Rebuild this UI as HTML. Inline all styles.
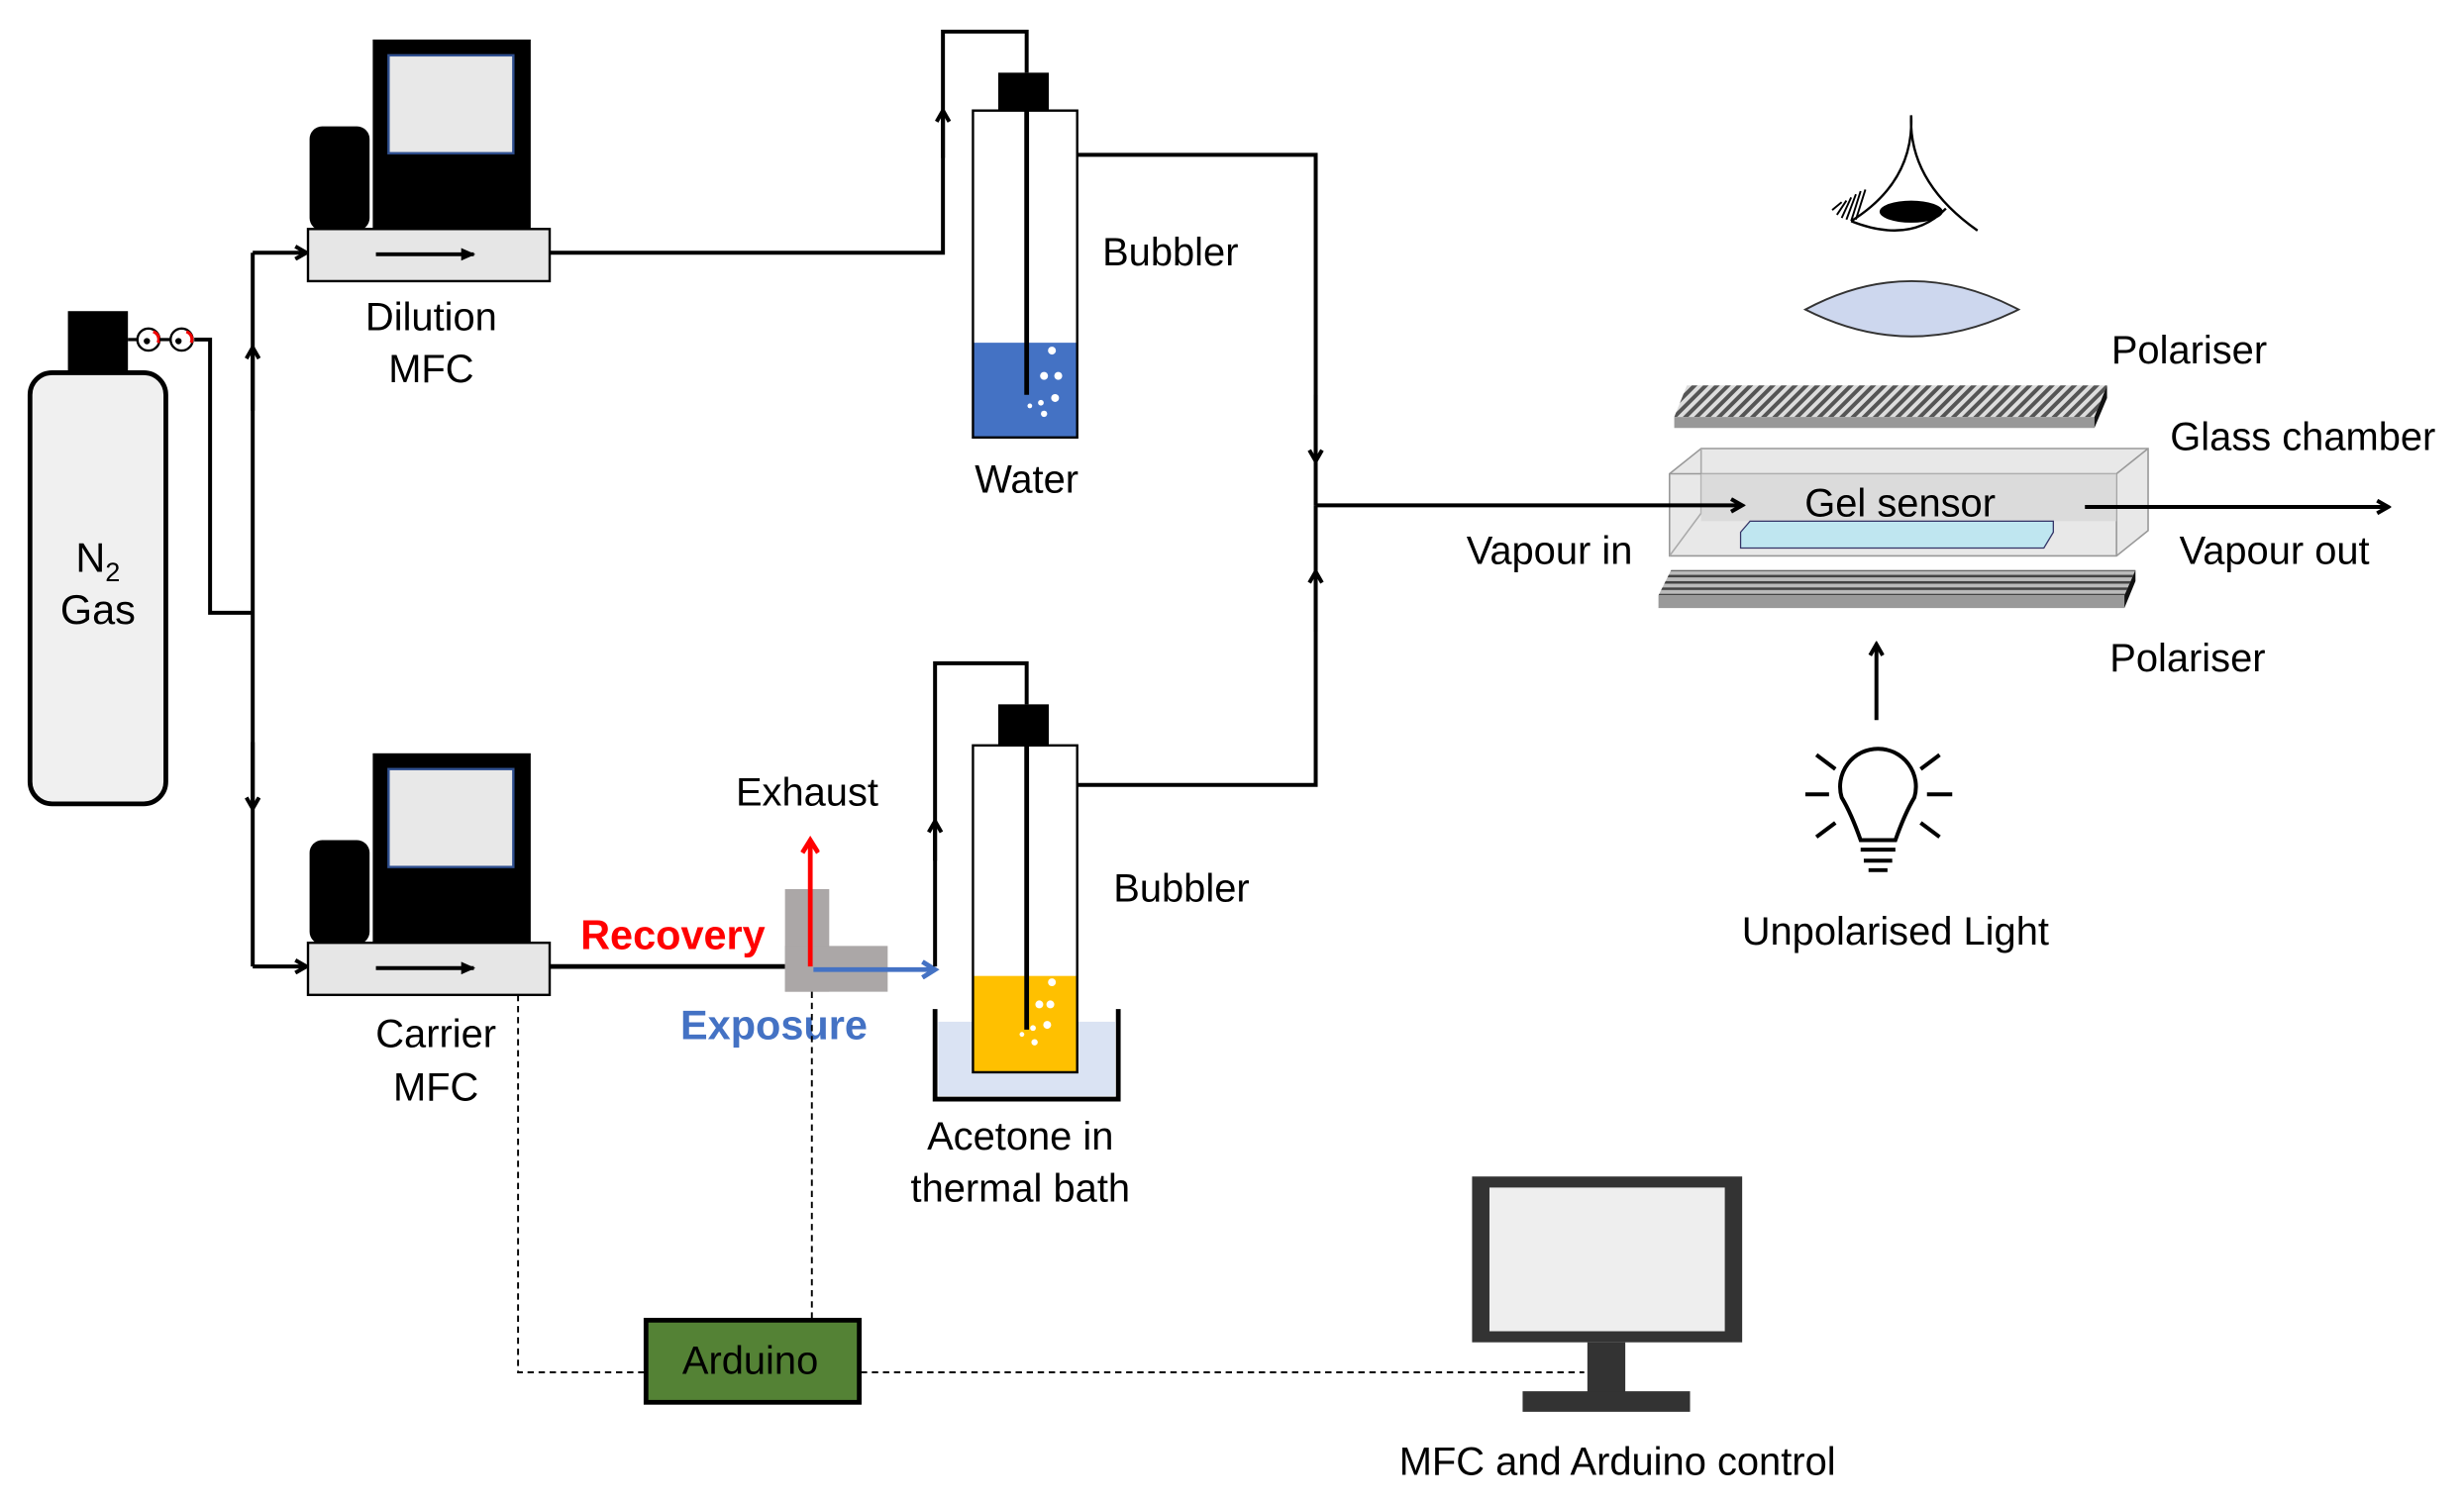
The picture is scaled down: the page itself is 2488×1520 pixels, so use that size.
<!DOCTYPE html>
<html><head><meta charset="utf-8"><style>
html,body{margin:0;padding:0;background:#fff;}
svg{display:block;}
text{font-family:"Liberation Sans",sans-serif;}
</style></head><body>
<svg width="2488" height="1520" viewBox="0 0 1560 953" xmlns="http://www.w3.org/2000/svg">
<defs>
<marker id="ah" markerWidth="10" markerHeight="10" refX="8" refY="5" orient="auto" markerUnits="userSpaceOnUse"><path d="M1,1 L8,5 L1,9" fill="none" stroke="#000" stroke-width="2.5"/></marker>
<marker id="ahr" markerWidth="12" markerHeight="12" refX="9" refY="6" orient="auto" markerUnits="userSpaceOnUse"><path d="M1,1 L9,6 L1,11" fill="none" stroke="#f00" stroke-width="3"/></marker>
<marker id="ahb" markerWidth="12" markerHeight="12" refX="9" refY="6" orient="auto" markerUnits="userSpaceOnUse"><path d="M1,1 L9,6 L1,11" fill="none" stroke="#4472c4" stroke-width="3"/></marker>
<marker id="tri" markerWidth="10" markerHeight="10" refX="8" refY="5" orient="auto" markerUnits="userSpaceOnUse"><path d="M0,1 L9,5 L0,9Z" fill="#000"/></marker>
<pattern id="hatch" width="5" height="5" patternUnits="userSpaceOnUse" patternTransform="rotate(45)"><rect width="5" height="5" fill="#ddd"/><rect width="2.5" height="5" fill="#555"/></pattern>
<pattern id="hlines" width="4" height="4" patternUnits="userSpaceOnUse"><rect width="4" height="4" fill="#bbb"/><rect width="4" height="1.6" fill="#444"/></pattern>
</defs>

<rect x="19" y="236" width="86" height="273" rx="14" fill="#f0f0f0" stroke="#000" stroke-width="3"/>
<rect x="43" y="197" width="38" height="39" fill="#000"/>
<line x1="81" y1="215" x2="87" y2="215" stroke="#000" stroke-width="2"/>
<circle cx="94" cy="215" r="7" fill="#fff" stroke="#000" stroke-width="1.5"/>
<circle cx="115" cy="215" r="7" fill="#fff" stroke="#000" stroke-width="1.5"/>
<path d="M97,210 a5,5 0 0 1 3,7" stroke="#e00" stroke-width="2" fill="none"/>
<path d="M118,210 a5,5 0 0 1 3,7" stroke="#e00" stroke-width="2" fill="none"/>
<circle cx="93" cy="216" r="2" fill="#000"/><circle cx="113" cy="216" r="2" fill="#000"/>
<line x1="101" y1="215" x2="108" y2="215" stroke="#000" stroke-width="2"/>
<text x="62" y="362" font-size="26" text-anchor="middle">N<tspan font-size="17" dy="6">2</tspan></text>
<text x="62" y="395" font-size="26" text-anchor="middle">Gas</text>

<g stroke="#000" stroke-width="2.5" fill="none">
<polyline points="123,215 133,215 133,388 160,388"/>
<line x1="160" y1="160" x2="160" y2="612"/>
<line x1="160" y1="160" x2="194" y2="160" marker-end="url(#ah)"/>
<line x1="160" y1="612" x2="194" y2="612" marker-end="url(#ah)"/>
<line x1="160" y1="260" x2="160" y2="220" marker-end="url(#ah)"/>
<line x1="160" y1="470" x2="160" y2="512" marker-end="url(#ah)"/>
</g>

<rect x="196" y="80" width="38" height="66" rx="8" fill="#000"/>
<rect x="236" y="25" width="100" height="121" fill="#000"/>
<rect x="246" y="35" width="79" height="62" fill="#e8e8e8" stroke="#2f4f8f" stroke-width="1.5"/>
<rect x="195" y="145" width="153" height="33" fill="#e6e6e6" stroke="#000" stroke-width="1.5"/>
<line x1="238" y1="161" x2="300" y2="161" stroke="#000" stroke-width="2.5" marker-end="url(#tri)"/>
<text x="273" y="209" font-size="25" text-anchor="middle">Dilution</text>
<text x="273" y="242" font-size="25" text-anchor="middle">MFC</text>

<rect x="196" y="532" width="38" height="66" rx="8" fill="#000"/>
<rect x="236" y="477" width="100" height="121" fill="#000"/>
<rect x="246" y="487" width="79" height="62" fill="#e8e8e8" stroke="#2f4f8f" stroke-width="1.5"/>
<rect x="195" y="597" width="153" height="33" fill="#e6e6e6" stroke="#000" stroke-width="1.5"/>
<line x1="238" y1="613" x2="300" y2="613" stroke="#000" stroke-width="2.5" marker-end="url(#tri)"/>
<text x="276" y="663" font-size="25" text-anchor="middle">Carrier</text>
<text x="276" y="697" font-size="25" text-anchor="middle">MFC</text>

<g stroke="#000" stroke-width="2.5" fill="none">
<polyline points="348,160 597,160 597,20 650,20 650,46"/>
<line x1="597" y1="100" x2="597" y2="70" marker-end="url(#ah)"/>
<polyline points="682,98 833,98 833,320"/>
<line x1="833" y1="250" x2="833" y2="292" marker-end="url(#ah)"/>
</g>

<rect x="616" y="217" width="66" height="60" fill="#4472c4"/>
<rect x="616" y="70" width="66" height="207" fill="none" stroke="#000" stroke-width="1.5"/>
<rect x="632" y="46" width="32" height="24" fill="#000"/>
<line x1="650" y1="70" x2="650" y2="250" stroke="#000" stroke-width="3"/>
<g fill="#fff"><circle cx="666" cy="222" r="2.5"/><circle cx="661" cy="238" r="2.5"/><circle cx="670" cy="238" r="2.5"/><circle cx="668" cy="252" r="2.5"/><circle cx="659" cy="255" r="1.8"/><circle cx="652" cy="257" r="1.5"/><circle cx="661" cy="262" r="2"/></g>
<text x="741" y="168" font-size="25" text-anchor="middle">Bubbler</text>
<text x="650" y="312" font-size="25" text-anchor="middle">Water</text>

<line x1="348" y1="612" x2="497" y2="612" stroke="#000" stroke-width="3"/>
<rect x="497" y="563" width="28" height="65" fill="#aba7a7"/>
<rect x="497" y="599" width="65" height="29" fill="#aba7a7"/>
<line x1="513" y1="612" x2="513" y2="532" stroke="#f00" stroke-width="3" marker-end="url(#ahr)"/>
<line x1="515" y1="614" x2="592" y2="614" stroke="#4472c4" stroke-width="3" marker-end="url(#ahb)"/>
<text x="511" y="510" font-size="25" text-anchor="middle">Exhaust</text>
<text x="426" y="601" font-size="26" font-weight="bold" fill="#f00" text-anchor="middle">Recovery</text>
<text x="490" y="658" font-size="26" font-weight="bold" fill="#4472c4" text-anchor="middle">Exposure</text>

<g stroke="#000" stroke-width="2.5" fill="none">
<polyline points="592,612 592,420 650,420 650,446"/>
<line x1="592" y1="545" x2="592" y2="520" marker-end="url(#ah)"/>
<polyline points="682,497 833,497 833,320"/>
<line x1="833" y1="400" x2="833" y2="362" marker-end="url(#ah)"/>
</g>
<rect x="594" y="647" width="112" height="47" fill="#dae3f3"/>
<rect x="616" y="618" width="66" height="61" fill="#ffc000"/>
<rect x="616" y="472" width="66" height="207" fill="none" stroke="#000" stroke-width="1.5"/>
<path d="M592,639 V696 H708 V639" fill="none" stroke="#000" stroke-width="3"/>
<rect x="632" y="446" width="32" height="26" fill="#000"/>
<line x1="650" y1="472" x2="650" y2="652" stroke="#000" stroke-width="3"/>
<g fill="#fff"><circle cx="666" cy="622" r="2.5"/><circle cx="658" cy="636" r="2.5"/><circle cx="665" cy="636" r="2.5"/><circle cx="663" cy="649" r="2.5"/><circle cx="654" cy="651" r="1.8"/><circle cx="647" cy="655" r="1.5"/><circle cx="655" cy="660" r="2"/></g>
<text x="748" y="571" font-size="25" text-anchor="middle">Bubbler</text>
<text x="646" y="728" font-size="25" text-anchor="middle">Acetone in</text>
<text x="646" y="761" font-size="25" text-anchor="middle">thermal bath</text>

<g stroke="#000" stroke-width="1.2" stroke-dasharray="4,3" fill="none">
<polyline points="328,630 328,869 408,869"/>
<line x1="514" y1="628" x2="514" y2="835"/>
<line x1="545" y1="869" x2="1003" y2="869"/>
</g>
<rect x="409" y="836" width="135" height="52" fill="#548235" stroke="#000" stroke-width="3"/>
<text x="475" y="870" font-size="25" text-anchor="middle">Arduino</text>

<rect x="932" y="745" width="171" height="105" fill="#333"/>
<rect x="943" y="752" width="149" height="91" fill="#eee"/>
<rect x="1005" y="850" width="24" height="32" fill="#333"/>
<rect x="964" y="881" width="106" height="13" fill="#333"/>
<text x="1024" y="934" font-size="25" text-anchor="middle">MFC and Arduino control</text>

<g stroke="#000" stroke-width="1.5" fill="none">
<path d="M1210,73 Q1212,115 1172,140"/>
<path d="M1210,73 Q1208,115 1252,146"/>
<path d="M1172,140 Q1210,155 1232,132"/>
</g>
<ellipse cx="1210" cy="134" rx="20" ry="7" fill="#000"/>
<g stroke="#000" stroke-width="1.2"><line x1="1160" y1="133" x2="1166" y2="128"/><line x1="1163" y1="136" x2="1169" y2="127"/><line x1="1166" y1="138" x2="1172" y2="125"/><line x1="1169" y1="139" x2="1175" y2="123"/><line x1="1172" y1="140" x2="1178" y2="121"/><line x1="1175" y1="139" x2="1181" y2="120"/></g>
<path d="M1143,196 Q1210,160 1278,196 Q1210,230 1143,196Z" fill="#cdd7ee" stroke="#333" stroke-width="1.2"/>
<path d="M1068,244 L1334,244 L1326,264 L1060,264Z" fill="url(#hatch)"/>
<path d="M1060,264 L1326,264 L1326,271 L1060,271Z" fill="#999"/>
<path d="M1326,264 L1334,244 L1334,252 L1326,271Z" fill="#111"/>
<text x="1386" y="230" font-size="25" text-anchor="middle">Polariser</text>
<text x="1458" y="285" font-size="25" text-anchor="middle">Glass chamber</text>
<path d="M1057,300 L1077,284 L1360,284 L1360,336 L1340,352 L1057,352Z" fill="#e4e4e4" fill-opacity="0.85" stroke="#999" stroke-width="1"/>
<path d="M1077,284 L1077,325 L1057,352" fill="none" stroke="#aaa" stroke-width="1"/>
<path d="M1057,300 L1340,300 L1360,284 M1340,300 L1340,352" fill="none" stroke="#999" stroke-width="1"/>
<rect x="1077" y="300" width="263" height="30" fill="#d6d6d6" opacity="0.7"/>
<path d="M1102,337 L1108,330 L1300,330 L1300,337 L1294,347 L1102,347Z" fill="#bfe6f0" stroke="#336" stroke-width="0.8"/>
<text x="1203" y="327" font-size="25" text-anchor="middle">Gel sensor</text>
<g stroke="#000" stroke-width="2.5" fill="none">
<line x1="833" y1="320" x2="1103" y2="320" marker-end="url(#ah)"/>
<line x1="1320" y1="321" x2="1512" y2="321" marker-end="url(#ah)"/>
</g>
<text x="981" y="357" font-size="25" text-anchor="middle">Vapour in</text>
<text x="1440" y="357" font-size="25" text-anchor="middle">Vapour out</text>
<path d="M1058,361 L1352,361 L1345,377 L1050,377Z" fill="url(#hlines)"/>
<path d="M1050,377 L1345,377 L1345,385 L1050,385Z" fill="#999"/>
<path d="M1345,377 L1352,361 L1352,368 L1345,385Z" fill="#111"/>
<text x="1385" y="425" font-size="25" text-anchor="middle">Polariser</text>
<line x1="1188" y1="456" x2="1188" y2="408" stroke="#000" stroke-width="2.5" marker-end="url(#ah)"/>
<g stroke="#000" stroke-width="2.5" fill="none">
<path d="M1178,532 Q1172,515 1166,505 A24,24 0 1 1 1212,505 Q1206,515 1200,532Z"/>
<line x1="1178" y1="538" x2="1200" y2="538"/><line x1="1180" y1="545" x2="1198" y2="545"/><line x1="1183" y1="551" x2="1195" y2="551"/>
<line x1="1143" y1="503" x2="1158" y2="503"/><line x1="1220" y1="503" x2="1236" y2="503"/>
<line x1="1150" y1="478" x2="1162" y2="487"/><line x1="1228" y1="478" x2="1216" y2="487"/>
<line x1="1150" y1="530" x2="1162" y2="521"/><line x1="1228" y1="530" x2="1216" y2="521"/>
</g>
<text x="1200" y="598" font-size="25" text-anchor="middle">Unpolarised Light</text>
</svg>
</body></html>
